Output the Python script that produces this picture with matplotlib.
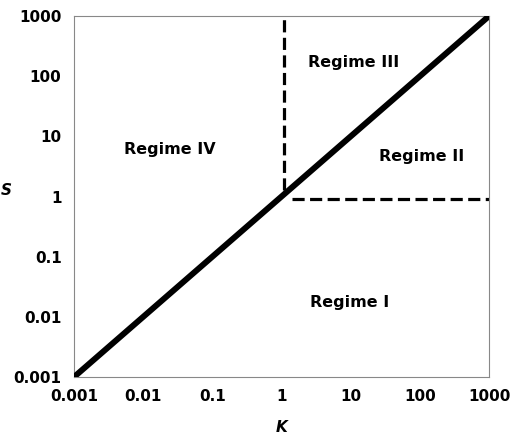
import matplotlib
matplotlib.use("Agg")
import matplotlib.pyplot as plt

plt.rcParams['font.family'] = ['DejaVu Sans']

# diagonal boundary
diag_x = [0.001, 1000]
diag_y = [0.001, 1000]

# dashed regime boundaries
vert_x = [1.1, 1.1]
vert_y = [1.3, 1000]
horz_x = [1.4, 1000]
horz_y = [0.9, 0.9]

ticks = [0.001, 0.01, 0.1, 1, 10, 100, 1000]
tick_labels = ["0.001", "0.01", "0.1", "1", "10", "100", "1000"]

regime_names = ["Regime IV", "Regime III", "Regime II", "Regime I"]
regime_x = [0.024, 11, 107, 9.7]
regime_y = [6.1, 170, 4.7, 0.017]

fig = plt.figure(figsize=(5.22, 4.38), dpi=100)
ax = fig.add_axes([0.1418, 0.1393, 0.795, 0.824])

ax.plot(diag_x, diag_y, color="black", lw=4.3, solid_capstyle="round", zorder=3)
ax.plot(vert_x, vert_y, color="black", lw=2.3, dashes=(3.8, 1.7))
ax.plot(horz_x, horz_y, color="black", lw=2.3, dashes=(3.8, 1.7))

for name, x, y in zip(regime_names, regime_x, regime_y):
    ax.text(x, y, name, ha="center", va="center", fontsize=11.5, fontweight="bold")

ax.set_xscale("log")
ax.set_yscale("log")
ax.set_xlim(0.001, 1000)
ax.set_ylim(0.001, 1000)
ax.set_xticks(ticks)
ax.set_xticklabels(tick_labels)
ax.set_yticks(ticks)
ax.set_yticklabels(tick_labels)
ax.minorticks_off()
ax.tick_params(length=0, labelsize=11, pad=9)
for lab in ax.get_xticklabels() + ax.get_yticklabels():
    lab.set_fontweight("bold")

for s in ax.spines.values():
    s.set_color("#888888")
    s.set_linewidth(0.8)

ax.set_xlabel("K", fontsize=11, fontweight="bold", style="italic", labelpad=11)
fig.text(0.002, 0.566, "S", fontsize=11, fontweight="bold", style="italic",
         ha="left", va="center")

plt.savefig("out.png", dpi=100)
